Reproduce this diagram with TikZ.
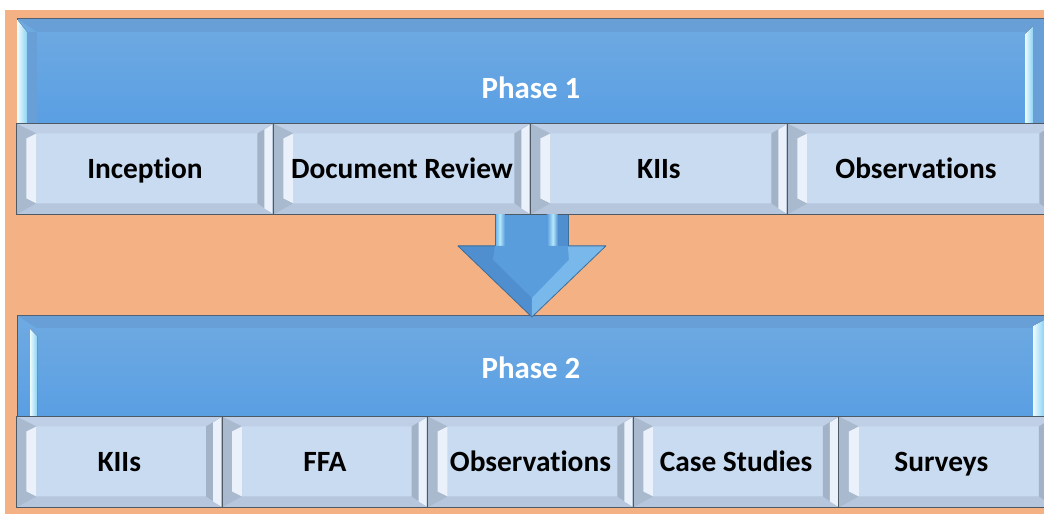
\documentclass[tikz,border=0pt]{standalone}
\usepackage{fontspec}
\setmainfont[Ligatures={NoCommon}]{Carlito}
\usetikzlibrary{calc}
\definecolor{bgor}{HTML}{F4B183}
\definecolor{barT}{HTML}{6FAAE2}
\definecolor{barB}{HTML}{5A9FE3}
\definecolor{edgec}{HTML}{4D5A66}
\definecolor{subfill}{HTML}{C9DBF1}
\definecolor{bevtop}{HTML}{BFD0E6}
\definecolor{bevbot}{HTML}{B6C7DD}
\definecolor{bevgray}{HTML}{A9B9CE}
\definecolor{bevdark}{HTML}{A2B3C8}
\definecolor{bevlight}{HTML}{EAF1FA}
\definecolor{hiL}{HTML}{EEFBFF}
\definecolor{hiR}{HTML}{8CD3F5}
\definecolor{shL}{HTML}{B4E6FB}
\definecolor{shR}{HTML}{72B9EC}
\definecolor{barband}{HTML}{689FD6}
\definecolor{arrowmain}{HTML}{5A9DDD}
\definecolor{arrowedge}{HTML}{3F6E99}
\definecolor{arrowdark}{HTML}{4F8FCF}
\definecolor{arrowlight}{HTML}{78B8EA}
\tikzset{
  subbox/.style={draw=edgec, line width=0.9bp, fill=subfill,
    minimum width=#1bp, minimum height=91bp, inner sep=0pt, anchor=north west,
    font=\bfseries\fontsize{29.5}{32}\selectfont, text=black,
    text height=18.8bp, text depth=0pt,
    path picture={
      \coordinate (bvA) at (path picture bounding box.north west);
      \coordinate (bvB) at (path picture bounding box.north east);
      \coordinate (bvC) at (path picture bounding box.south east);
      \coordinate (bvD) at (path picture bounding box.south west);
      \fill[bevtop] (bvA) -- (bvB) -- ($(bvB)+(-16,10)$) -- ($(bvA)+(20,10)$) -- cycle;
      \fill[bevbot] (bvD) -- (bvC) -- ($(bvC)+(-16,-11)$) -- ($(bvD)+(20,-11)$) -- cycle;
      \fill[bevgray] (bvA) -- ($(bvA)+(20,10)$) -- ($(bvD)+(20,-11)$) -- (bvD) -- cycle;
      \fill[bevlight] ($(bvA)+(10,15)$) -- ($(bvA)+(20,10)$) -- ($(bvD)+(20,-11)$) -- ($(bvD)+(10,-16)$) -- cycle;
      \fill[bevdark] (bvB) -- ($(bvB)+(-16,10)$) -- ($(bvC)+(-16,-11)$) -- (bvC) -- cycle;
      \fill[bevlight] ($(bvB)+(-9,6)$) -- ($(bvB)+(-1,1)$) -- ($(bvC)+(-1,-1)$) -- ($(bvC)+(-9,-6)$) -- cycle;
    }},
  phasebar/.style={draw=edgec, line width=0.9bp, top color=barT, bottom color=barB,
    inner sep=0pt, anchor=north west},
  phasetext/.style={font=\bfseries\fontsize{31}{34}\selectfont, text=white, inner sep=0pt,
    text height=20bp, text depth=0pt},
  hilite/.style={left color=hiL, right color=hiR},
}
\begin{document}
\begin{tikzpicture}[x=1bp,y=-1bp]
\useasboundingbox (0,0) rectangle (1044,514);
\clip (0,0) rectangle (1044,514);
\fill[bgor] (5,10) rectangle (1044,514);

% Phase 1
\node[phasebar, minimum width=1045bp, minimum height=105bp] (p1bar) at (17,18) {};
\fill[barband] ($(p1bar.north west)+(1,1)$) -- ($(p1bar.north east)+(-1,1)$) -- ($(p1bar.north east)+(-20,14)$) -- ($(p1bar.north west)+(20,14)$) -- cycle;
\fill[hilite] ($(p1bar.north west)+(0.5,2)$) -- ($(p1bar.north west)+(10,14)$) -- ($(p1bar.south west)+(10,0)$) -- ($(p1bar.south west)+(0.5,0)$) -- cycle;
\fill[barband] ($(p1bar.north west)+(10,14)$) -- ($(p1bar.north west)+(20,14)$) -- ($(p1bar.south west)+(20,0)$) -- ($(p1bar.south west)+(10,0)$) -- cycle;
\fill[hilite] (1025,34) -- (1033,26) -- (1033,123) -- (1025,123) -- cycle;
\fill[barband] (1033,26) -- (1044,19) -- (1044,123) -- (1033,123) -- cycle;
\node[phasetext] (p1label) at (531,89) {Phase 1};

\node[subbox=257] (a1) at (16,123) {Inception};
\node[subbox=257] (a2) at (273,123) {Document Review};
\node[subbox=257] (a3) at (530,123) {KIIs};
\node[subbox=268] (a4) at (787,123) {\hspace*{-11bp}Observations};

% Phase 2
\node[phasebar, minimum width=1045bp, minimum height=101bp] (p2bar) at (17,315) {};
\fill[barband] ($(p2bar.north west)+(1,1)$) -- ($(p2bar.north east)+(-1,1)$) -- ($(p2bar.north east)+(-20,13)$) -- ($(p2bar.north west)+(20,13)$) -- cycle;
\fill[hilite] (30,329) -- (37,336) -- (37,416) -- (30,416) -- cycle;
\fill[hilite] (1033,326) -- (1044,320) -- (1044,416) -- (1033,416) -- cycle;
\node[phasetext] (p2label) at (531,368) {Phase 2};

\node[subbox=205.6] (b1) at (16,416) {KIIs};
\node[subbox=205.6] (b2) at (221.6,416) {FFA};
\node[subbox=205.6] (b3) at (427.2,416) {Observations};
\node[subbox=205.6] (b4) at (632.8,416) {Case Studies};
\node[subbox=216] (b5) at (838.4,416) {\hspace*{-11bp}Surveys};

% Arrow
\coordinate (atop) at ($(a2.south east)+(1,0)$);
\coordinate (atip) at ($(atop |- p2bar.north)+(0,2)$);
\fill[arrowmain] ($(atop)+(-37,0)$) rectangle ($(atop)+(36,31)$);
\fill[left color=shR, right color=shL] ($(atop)+(-36,0)$) rectangle ($(atop)+(-32,31)$);
\fill[left color=shL, right color=arrowmain] ($(atop)+(-32,0)$) rectangle ($(atop)+(-27,31)$);
\fill[left color=arrowmain, right color=shL] ($(atop)+(15,0)$) rectangle ($(atop)+(21,31)$);
\fill[left color=shL, right color=arrowdark] ($(atop)+(21,0)$) rectangle ($(atop)+(26,31)$);
\fill[arrowdark] ($(atop)+(26,0)$) rectangle ($(atop)+(36,31)$);
\draw[arrowedge, line width=0.8bp] ($(atop)+(-37,0)$) -- ($(atop)+(-37,31)$) ($(atop)+(36,0)$) -- ($(atop)+(36,31)$);
\fill[arrowmain] ($(atop)+(-74,31)$) -- ($(atop)+(74,31)$) -- (atip) -- cycle;
\fill[arrowdark] ($(atop)+(-74,31)$) -- ($(atop)+(-37,31)$) -- ($(atop)+(-39,45)$) -- ($(atip)+(0,-19)$) -- (atip) -- cycle;
\fill[arrowlight] ($(atop)+(74,31)$) -- ($(atop)+(36,31)$) -- ($(atop)+(37,45)$) -- ($(atip)+(0,-19)$) -- (atip) -- cycle;
\draw[arrowedge, line width=0.8bp, line join=round] ($(atop)+(-37,31)$) -- ($(atop)+(-74,31)$) -- (atip) -- ($(atop)+(74,31)$) -- ($(atop)+(36,31)$);
\end{tikzpicture}
\end{document}
